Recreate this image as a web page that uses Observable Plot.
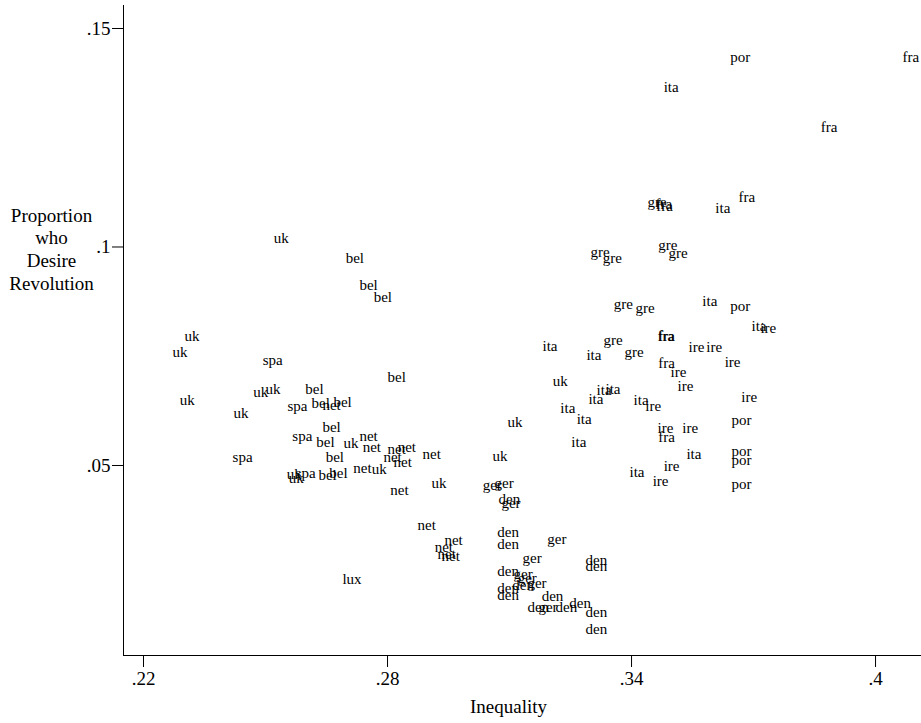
<!DOCTYPE html>
<html><head><meta charset="utf-8">
<script src="https://cdn.jsdelivr.net/npm/d3@7"></script>
<script src="https://cdn.jsdelivr.net/npm/@observablehq/plot@0.6"></script>
<style>body{margin:0;background:#fff;}</style>
</head><body><div id="chart"></div>
<script>
const country = ["por","fra","ita","fra","gre","fra","fra","ita","fra","gre",
"gre","gre","gre","gre","gre","ita","por","ita","ire","ita",
"gre","ita","gre","fra","fra","ire","ire","fra","ire","ire",
"ire","uk","ita","ita","ita","ita","ire","ita","ita","ita",
"ire","fra","ire","ita","ire","ita","ire","ire","por","por",
"por","por","uk","uk","ger","ger","den","ger","den","den",
"ger","ger","den","den","den","ger","ger","den","den","den",
"ger","den","den","ger","den","den","den","den","net","net",
"net","net","net","lux","bel","bel","bel","net","bel","bel",
"bel","uk","net","net","net","net","net","net","net","bel",
"bel","bel","net","uk","net","uk","uk","uk","spa","uk",
"uk","uk","spa","uk","spa","spa","uk","spa","uk","uk",
"bel","bel","bel"];
const inequality = [0.3643,0.4066,0.3479,0.3865,0.3439,0.3459,0.3461,0.3606,0.3663,0.3299,
0.3329,0.3466,0.3491,0.3356,0.3410,0.3574,0.3643,0.3695,0.3717,0.3181,
0.3331,0.3289,0.3383,0.3464,0.3466,0.3540,0.3584,0.3466,0.3496,0.3513,
0.3629,0.3206,0.3314,0.3336,0.3294,0.3405,0.3434,0.3225,0.3265,0.3252,
0.3464,0.3466,0.3525,0.3535,0.3479,0.3395,0.3452,0.3670,0.3646,0.3646,
0.3646,0.3646,0.3095,0.3058,0.3034,0.3063,0.3073,0.3080,0.3070,0.3070,
0.3193,0.3132,0.3287,0.3287,0.3070,0.3110,0.3120,0.3070,0.3070,0.3107,
0.3144,0.3179,0.3144,0.3171,0.3213,0.3247,0.3287,0.3287,0.2874,0.2940,
0.2916,0.2923,0.2933,0.2689,0.2800,0.2598,0.2613,0.2640,0.2667,0.2640,
0.2625,0.2692,0.2731,0.2739,0.2800,0.2825,0.2790,0.2815,0.2886,0.2648,
0.2630,0.2657,0.2716,0.2761,0.2807,0.2908,0.2301,0.2271,0.2493,0.2289,
0.2470,0.2500,0.2554,0.2421,0.2566,0.2419,0.2552,0.2574,0.2557,0.2520,
0.2697,0.2731,0.2766];
const revolution = [0.1434,0.1434,0.1365,0.1273,0.1102,0.1097,0.1093,0.1088,0.1113,0.0987,
0.0974,0.1003,0.0985,0.0868,0.0859,0.0875,0.0864,0.0818,0.0814,0.0772,
0.0786,0.0752,0.0759,0.0797,0.0795,0.0770,0.0770,0.0733,0.0713,0.0681,
0.0736,0.0692,0.0672,0.0674,0.0651,0.0649,0.0635,0.0630,0.0605,0.0553,
0.0585,0.0564,0.0585,0.0527,0.0498,0.0484,0.0463,0.0656,0.0603,0.0532,
0.0511,0.0457,0.0598,0.0521,0.0454,0.0459,0.0422,0.0413,0.0347,0.0319,
0.0331,0.0287,0.0283,0.0269,0.0257,0.0251,0.0241,0.0219,0.0203,0.0225,
0.0230,0.0200,0.0175,0.0175,0.0175,0.0184,0.0164,0.0125,0.0363,0.0328,
0.0312,0.0296,0.0292,0.0239,0.0701,0.0674,0.0642,0.0637,0.0646,0.0587,
0.0553,0.0550,0.0566,0.0541,0.0537,0.0543,0.0518,0.0507,0.0527,0.0518,
0.0477,0.0482,0.0493,0.0491,0.0443,0.0459,0.0797,0.0759,0.0740,0.0649,
0.0667,0.0674,0.0635,0.0619,0.0566,0.0518,0.0479,0.0482,0.0470,0.1019,
0.0974,0.0912,0.0884];
const xTicks = [0.22, 0.28, 0.34, 0.4];
const yTicks = [0.05, 0.1, 0.15];
const xDomain = [0.21508, 0.4113];
const yDomain = [0.00652, 0.15526];
const xTitle = "Inequality";
const yTitle = "Proportion\nwho\nDesire\nRevolution";

const data = country.map((c, i) => ({country: c, x: inequality[i], y: revolution[i]}));
const fmt = d => String(d).replace(/^0/, "");

const chart = Plot.plot({
  width: 921, height: 723,
  marginLeft: 123, marginRight: 0, marginTop: 5, marginBottom: 68,
  style: {fontFamily: "'Liberation Serif', 'DejaVu Serif', serif", background: "#fff", color: "#000"},
  x: {domain: xDomain},
  y: {domain: yDomain},
  marks: [
    Plot.axisX({ticks: xTicks, tickFormat: fmt, tickSize: 12, tickPadding: 4, fontSize: 19, label: null}),
    Plot.axisY({ticks: yTicks, tickFormat: fmt, tickSize: 11, tickPadding: 2, fontSize: 19, label: null}),
    Plot.ruleX([xDomain[0]], {stroke: "#000"}),
    Plot.ruleY([yDomain[0]], {stroke: "#000"}),
    Plot.text(data, {x: "x", y: "y", text: "country", textAnchor: "start", lineAnchor: "middle", fontSize: 15, fill: "#000"}),
    Plot.text([xTitle], {frameAnchor: "bottom", textAnchor: "middle", lineAnchor: "middle", dx: -14, dy: 51, fontSize: 19, fill: "#000"}),
    Plot.text([yTitle], {frameAnchor: "left", textAnchor: "middle", lineAnchor: "middle", dx: -72, dy: -82, fontSize: 19, lineHeight: 1.2, fill: "#000"})
  ]
});
document.getElementById("chart").appendChild(chart);
</script>
</body></html>
